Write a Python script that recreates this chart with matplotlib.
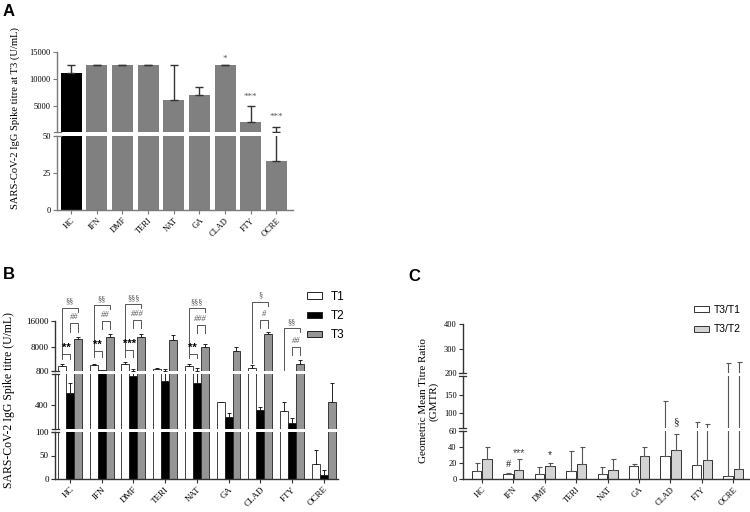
import numpy as np
import matplotlib
matplotlib.use('Agg')
import matplotlib.pyplot as plt
from matplotlib.patches import Patch

groups = ['HC', 'IFN', 'DMF', 'TERI', 'NAT', 'GA', 'CLAD', 'FTY', 'OCRE']

# panel A - titre at T3 (mean, top of error bar)
a_mean = [11000, 12500, 12500, 12500, 6000, 7050, 12500, 1950, 33]
a_upper = [12500, 12550, 12550, 12550, 12500, 8450, 12550, 4900, 1000]
a_sig = ['', '', '', '', '', '', '*', '***', '***']
a_sig_y = [0, 0, 0, 0, 0, 0, 13700, 6700, 2800]

# panel B - titres at T1, T2, T3
b_t1 = [2450, 2650, 2950, 1400, 2400, 440, 1650, 330, 31]
b_t1_up = [2850, 3050, 3600, 1600, 2950, 450, 2500, 450, 62]
b_t2 = [560, 1100, 780, 710, 690, 255, 340, 176, 8.5]
b_t2_up = [690, 1250, 1350, 1400, 1700, 300, 380, 236, 18.5]
b_t3 = [10440, 11230, 11040, 10220, 8000, 6970, 12050, 3020, 448]
b_t3_up = [11230, 12140, 11960, 11740, 9100, 8000, 12560, 4140, 690]

# brackets: group, bar i, bar j, level, left leg end, right leg end, label
b_brackets = [
    ('HC', 0, 1, 5970, 4450, 4450, '**'),
    ('HC', 1, 2, 15300, 12750, 12750, '##'),
    ('HC', 0, 2, 20040, 5660, 18830, '§§'),
    ('IFN', 0, 1, 6880, 5150, 5150, '**'),
    ('IFN', 1, 2, 16000, 13480, 13480, '##'),
    ('IFN', 0, 2, 20860, 6670, 19650, '§§'),
    ('DMF', 0, 1, 7180, 5150, 5150, '***'),
    ('DMF', 1, 2, 16300, 13780, 13780, '###'),
    ('DMF', 0, 2, 21080, 7180, 19860, '§§§'),
    ('NAT', 0, 1, 5970, 4660, 4660, '**'),
    ('NAT', 1, 2, 14780, 12260, 12260, '###'),
    ('NAT', 0, 2, 19860, 6180, 18650, '§§§'),
    ('CLAD', 1, 2, 16300, 13780, 13780, '#'),
    ('CLAD', 0, 2, 21870, 3140, 20650, '§'),
    ('FTY', 1, 2, 8190, 5660, 5660, '##'),
    ('FTY', 0, 2, 13780, 1100, 12570, '§§'),
]

# panel C - GMTR
c_t3t1 = [9.8, 6.1, 5.7, 9.4, 6.5, 16.7, 28.2, 17.1, 3.7]
c_t3t1_up = [20, 7, 15, 34.7, 15, 18.4, 133, 77, 240]
c_t3t2 = [25.3, 11.8, 16.7, 19.2, 11, 28.2, 36.3, 23.3, 13.1]
c_t3t2_up = [40.4, 24.5, 20.4, 39.6, 24.9, 39.6, 56.7, 70, 246]
c_sig = [('IFN', 0, 18, '#'), ('IFN', 1, 32.7, '***'), ('DMF', 1, 30.2, '*'), ('CLAD', 1, 77, '§')]

serif = 'Liberation Serif'
sans = 'Liberation Sans'

W, H = 750, 512
fig = plt.figure(figsize=(7.5, 5.12), dpi=100)


def px_axes(x0, x1, y0, y1):
    return fig.add_axes([x0 / W, 1 - y1 / H, (x1 - x0) / W, (y1 - y0) / H])


def draw_bars(ax, ylim, xpos, vals, ups, width, col, edge, lw, ecol, elw, cap):
    vals = np.array(vals, dtype=float)
    ups = np.array(ups, dtype=float)
    ax.bar(xpos, vals, width, color=col, edgecolor=edge, linewidth=lw)
    # only the error bars that reach into this segment
    keep = ups > ylim[0]
    if keep.any():
        ax.errorbar(xpos[keep], vals[keep], yerr=[np.zeros(keep.sum()), ups[keep] - vals[keep]],
                    fmt='none', ecolor=ecol, elinewidth=elw, capsize=cap, capthick=elw)


def style_seg(ax, ylim, ticks, bottom, xlim, spine_col, tick_size, brk_top, brk_bottom, width_px):
    ax.set_ylim(*ylim)
    ax.set_xlim(*xlim)
    ax.set_yticks(ticks)
    ax.set_yticklabels([str(t) for t in ticks], fontfamily=serif, fontsize=tick_size)
    for s in ['top', 'right']:
        ax.spines[s].set_visible(False)
    ax.spines['left'].set_color(spine_col)
    ax.spines['left'].set_linewidth(1.0)
    ax.tick_params(axis='y', length=3, width=0.8, color=spine_col, pad=1.5)
    if bottom:
        ax.spines['bottom'].set_color(spine_col)
        ax.spines['bottom'].set_linewidth(1.0)
        ax.set_xticks(range(len(groups)))
        ax.set_xticklabels(groups, rotation=45, ha='right', rotation_mode='anchor',
                           fontfamily=serif, fontsize=tick_size)
        ax.tick_params(axis='x', length=3, width=0.8, color=spine_col, pad=1.5)
    else:
        ax.spines['bottom'].set_visible(False)
        ax.set_xticks([])
    d = 3.5 / width_px
    for y, flag in [(1, brk_top), (0, brk_bottom)]:
        if flag:
            ax.plot([-d, d], [y, y], transform=ax.transAxes, color=spine_col,
                    lw=0.9, clip_on=False)
    ax.patch.set_alpha(0)


x = np.arange(len(groups))

# ---------------- Panel A ----------------
a_top = px_axes(57, 293, 52, 132)
a_bot = px_axes(57, 293, 136, 210)
a_lims = [(50, 15000), (0, 50)]
a_cols = ['black'] + ['#808080'] * 8
for ax, lim in zip([a_top, a_bot], a_lims):
    draw_bars(ax, lim, x, a_mean, a_upper, 0.82, a_cols, a_cols, 0, '#333333', 1.0, 3)
style_seg(a_top, a_lims[0], [5000, 10000, 15000], False, (-0.55, 8.65), '#7a7a7a', 6,
          False, True, 236)
style_seg(a_bot, a_lims[1], [0, 25, 50], True, (-0.55, 8.65), '#7a7a7a', 6, True, False, 236)
for i, lab in enumerate(a_sig):
    if lab:
        a_top.text(i, a_sig_y[i], lab, ha='center', va='center', fontsize=6.5,
                   fontfamily=serif, color='#555555')
fig.text(15 / W, 1 - 118 / H, 'SARS-CoV-2 IgG Spike titre at T3 (U/mL)', rotation=90,
         ha='center', va='center', fontfamily=serif, fontsize=7.6)

# ---------------- Panel B ----------------
b_top = px_axes(55, 338, 321, 371)
b_mid = px_axes(55, 338, 374, 429)
b_bot = px_axes(55, 338, 432, 479)
b_lims = [(800, 16000), (100, 800), (0, 100)]
b_series = [(b_t1, b_t1_up, -0.25, 'white'), (b_t2, b_t2_up, 0.0, 'black'),
            (b_t3, b_t3_up, 0.25, '#959595')]
for ax, lim in zip([b_top, b_mid, b_bot], b_lims):
    for vals, ups, off, col in b_series:
        draw_bars(ax, lim, x + off, vals, ups, 0.25, col, '#222222', 0.6, '#222222', 0.7, 1.5)
bxl = (-0.47, 8.45)
style_seg(b_top, b_lims[0], [800, 8000, 16000], False, bxl, '#333333', 6.5, False, True, 283)
style_seg(b_mid, b_lims[1], [400], False, bxl, '#333333', 6.5, True, True, 283)
style_seg(b_bot, b_lims[2], [0, 50, 100], True, bxl, '#333333', 6.5, True, False, 283)

for g, i, j, lev, ld, rd, lab in b_brackets:
    gi = groups.index(g)
    xi = gi + (i - 1) * 0.25
    xj = gi + (j - 1) * 0.25
    b_top.plot([xi, xi, xj, xj], [ld, lev, lev, rd], color='#555555', lw=0.7, clip_on=False)
    if '*' in lab:
        b_top.text((xi + xj) / 2, lev + 300, lab, ha='center', va='bottom', fontsize=8,
                   fontweight='bold', color='black', fontfamily=sans)
    else:
        b_top.text((xi + xj) / 2, lev + 600, lab, ha='center', va='bottom', fontsize=6,
                   color='#555555', fontfamily=serif, style='italic' if '#' in lab else 'normal')

b_top.legend(handles=[Patch(facecolor='white', edgecolor='#222222', lw=0.7, label='T1'),
                      Patch(facecolor='black', edgecolor='#222222', lw=0.7, label='T2'),
                      Patch(facecolor='#959595', edgecolor='#222222', lw=0.7, label='T3')],
             loc='upper left', bbox_to_anchor=(307 / W, 1 - 291 / H),
             bbox_transform=fig.transFigure, frameon=False, prop={'family': sans, 'size': 8.5},
             handlelength=1.3, handleheight=0.5, labelspacing=0.6, handletextpad=0.7,
             borderpad=0, borderaxespad=0)
fig.text(9 / W, 1 - 400 / H, 'SARS-CoV-2 IgG Spike titre (U/mL)', rotation=90,
         ha='center', va='center', fontfamily=serif, fontsize=8.5)

# ---------------- Panel C ----------------
c_top = px_axes(463, 750, 324, 373)
c_mid = px_axes(463, 750, 376, 428)
c_bot = px_axes(463, 750, 431, 479)
c_lims = [(200, 400), (60, 200), (0, 60)]
c_series = [(c_t3t1, c_t3t1_up, -0.17, 'white'), (c_t3t2, c_t3t2_up, 0.17, '#d3d3d3')]
for ax, lim in zip([c_top, c_mid, c_bot], c_lims):
    for vals, ups, off, col in c_series:
        draw_bars(ax, lim, x + off, vals, ups, 0.3, col, '#333333', 0.7, '#555555', 0.8, 1.8)
cxl = (-0.6, 8.53)
style_seg(c_top, c_lims[0], [200, 300, 400], False, cxl, '#333333', 6, False, True, 287)
style_seg(c_mid, c_lims[1], [100, 150], False, cxl, '#333333', 6, True, True, 287)
style_seg(c_bot, c_lims[2], [0, 20, 40, 60], True, cxl, '#333333', 6, True, False, 287)
for g, k, yv, lab in c_sig:
    gi = groups.index(g)
    ax = c_mid if yv > 60 else c_bot
    ax.text(gi + (-0.17 if k == 0 else 0.17), yv, lab, ha='center', va='center',
            fontsize=7.5 if lab != '§' else 8, fontfamily=sans if '*' in lab else serif,
            color='#222222' if lab != '***' else '#444444', clip_on=False)

c_top.legend(handles=[Patch(facecolor='white', edgecolor='#333333', lw=0.7, label='T3/T1'),
                      Patch(facecolor='#d3d3d3', edgecolor='#333333', lw=0.7, label='T3/T2')],
             loc='upper left', bbox_to_anchor=(694 / W, 1 - 305 / H),
             bbox_transform=fig.transFigure, frameon=False, prop={'family': sans, 'size': 7.5},
             handlelength=1.4, handleheight=0.5, labelspacing=0.9, handletextpad=0.5,
             borderpad=0, borderaxespad=0)
fig.text(429 / W, 1 - 401 / H, 'Geometric Mean Titre Ratio\n(GMTR)', rotation=90,
         ha='center', va='center', fontfamily=serif, fontsize=8, linespacing=1.1)

# panel letters
fig.text(3 / W, 1 - 4 / H, 'A', fontfamily=sans, fontweight='bold', fontsize=12, va='top')
fig.text(3 / W, 1 - 267 / H, 'B', fontfamily=sans, fontweight='bold', fontsize=12, va='top')
fig.text(408 / W, 1 - 269 / H, 'C', fontfamily=sans, fontweight='bold', fontsize=12, va='top')

fig.savefig('out.png', dpi=100)
